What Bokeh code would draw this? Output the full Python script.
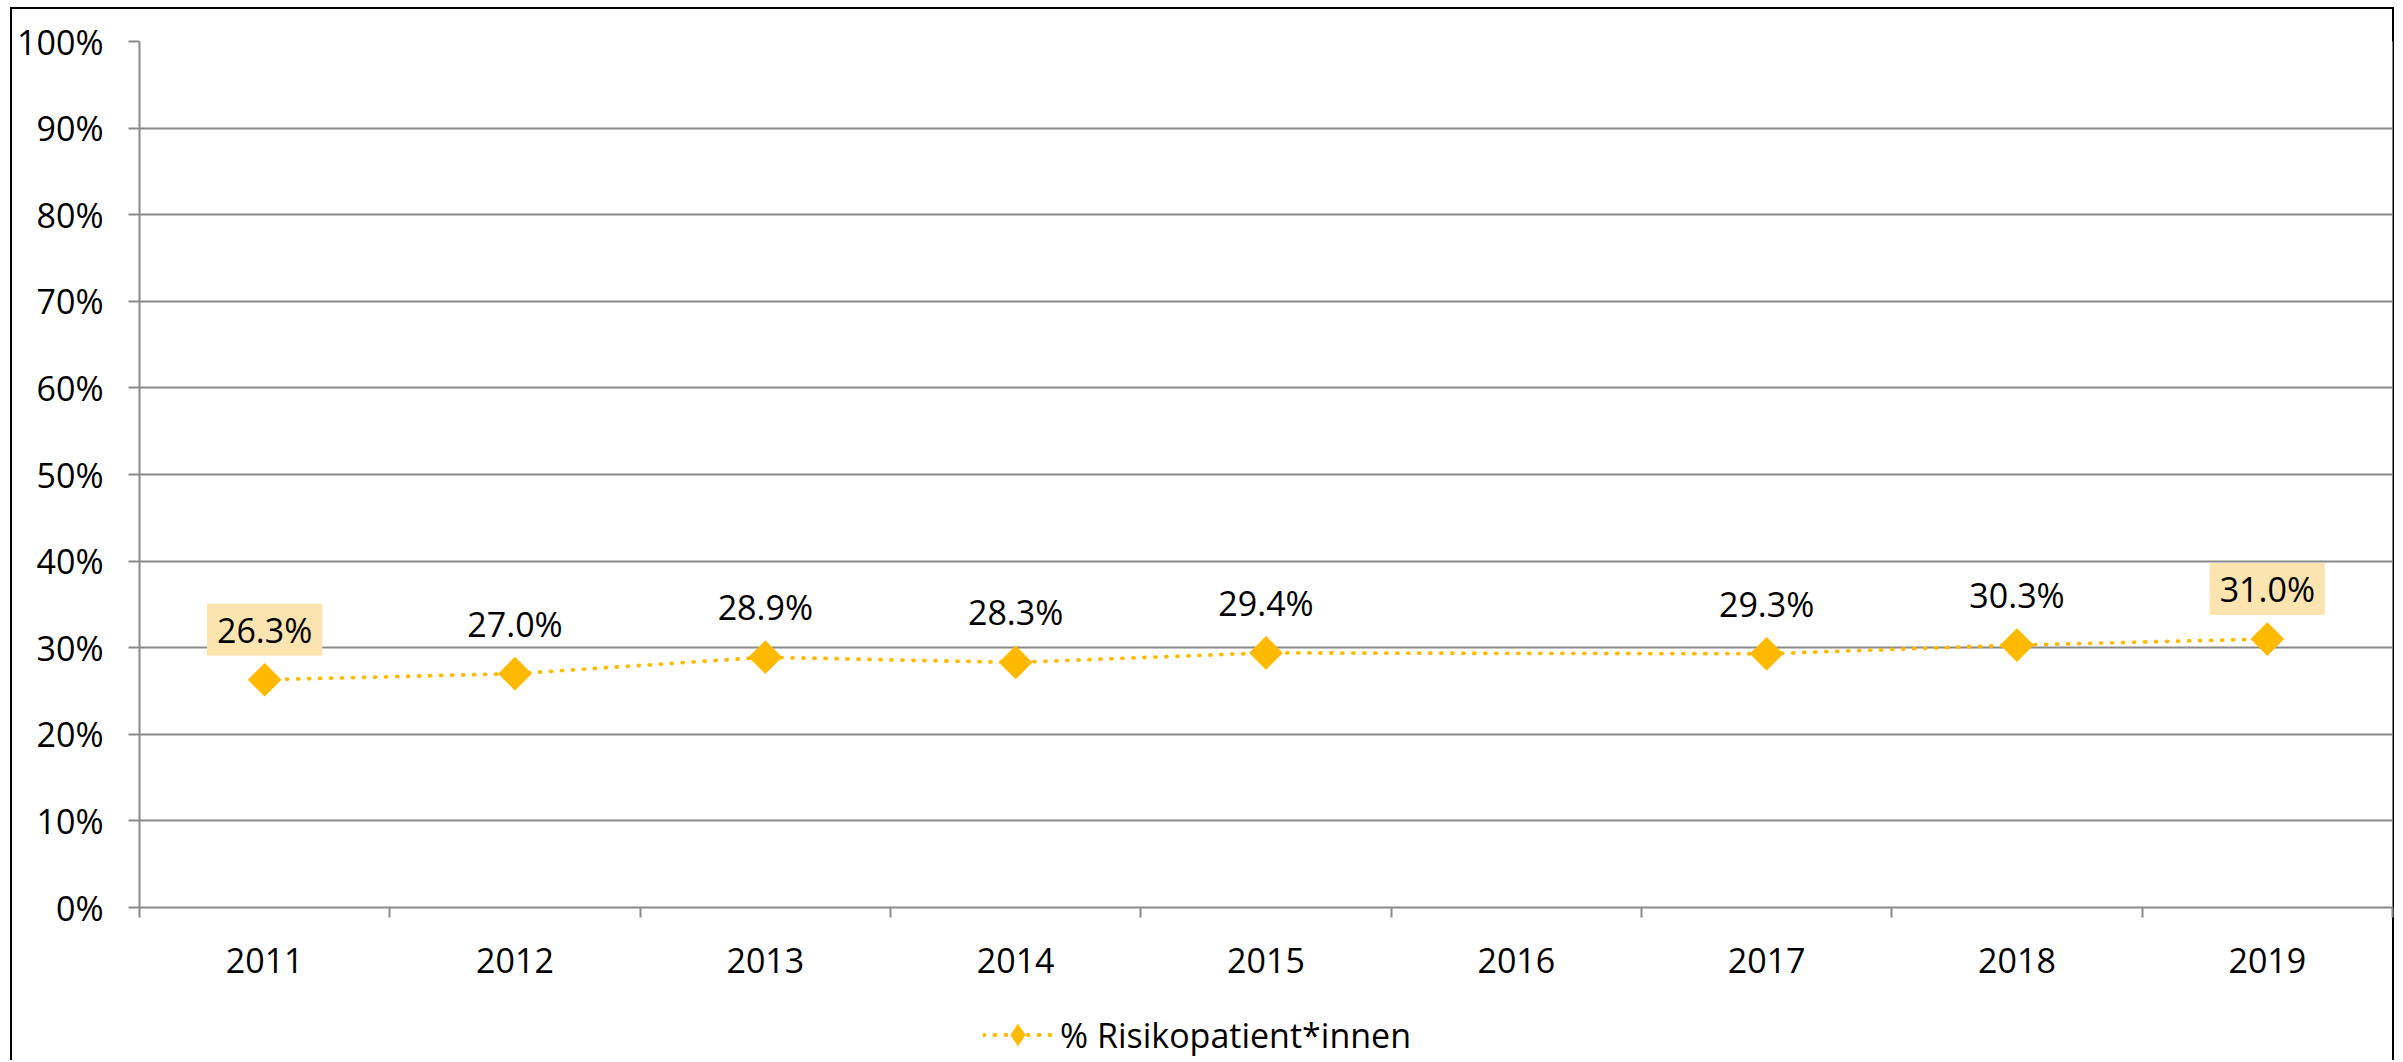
from bokeh.plotting import figure
from bokeh.layouts import column
from bokeh.models import (ColumnDataSource, Range1d, FixedTicker, PrintfTickFormatter,
                          Legend, LegendItem)
from bokeh.core.properties import value
from bokeh.embed import file_html
from bokeh.resources import INLINE
import math

# ---- data ----
years = ["2011", "2012", "2013", "2014", "2015", "2016", "2017", "2018", "2019"]
risk_pct = [26.3, 27.0, 28.9, 28.3, 29.4, None, 29.3, 30.3, 31.0]
series_name = "% Risikopatient*innen"
y_ticks = [0, 10, 20, 30, 40, 50, 60, 70, 80, 90, 100]

FONT = "Open Sans"
FS = "34px"
GOLD = "#FFBA00"
BOX = "#FCE4B0"
GRID = "#8A8A8A"

W, H1, H2 = 2395, 990, 70

pos = list(range(1, len(years) + 1))
xs = [p_ for p_, v in zip(pos, risk_pct) if v is not None]
ys = [v for v in risk_pct if v is not None]
n = len(ys)
src = ColumnDataSource(dict(
    x=xs, y=ys,
    lab=[f"{v:.1f}%" for v in ys],
    box=[BOX if i in (0, n - 1) else "rgba(0,0,0,0)" for i in range(n)],
))

p = figure(width=W, height=H1, output_backend="svg", toolbar_location=None,
           x_range=Range1d(0.5, len(years) + 0.5), y_range=Range1d(0, 100),
           min_border_left=139, min_border_right=3, min_border_top=41, min_border_bottom=H1 - 907)
p.border_fill_color = None
p.background_fill_color = "white"
p.outline_line_color = None

# axes
p.yaxis.ticker = FixedTicker(ticks=y_ticks)
p.yaxis.formatter = PrintfTickFormatter(format="%d%%")
p.yaxis.axis_line_color = GRID
p.yaxis.axis_line_width = 2
p.yaxis.major_tick_line_color = GRID
p.yaxis.major_tick_line_width = 2
p.yaxis.major_tick_out = 11
p.yaxis.major_tick_in = 0
p.yaxis.minor_tick_line_color = None
p.yaxis.major_label_standoff = 25

p.xaxis.ticker = FixedTicker(ticks=pos, minor_ticks=[q - 0.5 for q in pos] + [pos[-1] + 0.5])
p.xaxis.major_label_overrides = {q: y for q, y in zip(pos, years)}
p.xaxis.axis_line_color = GRID
p.xaxis.axis_line_width = 2
p.xaxis.major_tick_line_color = None
p.xaxis.major_tick_out = 0
p.xaxis.major_tick_in = 0
p.xaxis.minor_tick_line_color = GRID
p.xaxis.minor_tick_line_width = 2
p.xaxis.minor_tick_out = 10
p.xaxis.minor_tick_in = 0
p.xaxis.major_label_standoff = 30

for ax in (p.xaxis, p.yaxis):
    ax.major_label_text_font = FONT
    ax.major_label_text_font_size = FS
    ax.major_label_text_color = "black"

p.xgrid.grid_line_color = None
p.ygrid.ticker = FixedTicker(ticks=y_ticks)
p.ygrid.grid_line_color = GRID
p.ygrid.grid_line_width = 2

# series
line_style = dict(line_color=GOLD, line_width=3.8, line_dash="1 10", line_cap="round")
p.line("x", "y", source=src, **line_style)
p.scatter("x", "y", source=src, size=23.5, marker="square", angle=math.pi / 4,
          fill_color=GOLD, line_color=GOLD, line_width=0.5)

p.text("x", "y", text="lab", source=src, y_offset=-50, text_align="center",
       text_baseline="middle", text_font=value(FONT), text_font_size=FS,
       text_color="black", background_fill_color="box", padding=(10, 3))

# legend strip (separate figure below the chart; its series fall outside its ranges)
lg = figure(width=W, height=H2, output_backend="svg", toolbar_location=None,
            x_axis_type=None, y_axis_type=None, x_range=Range1d(-1, 0), y_range=Range1d(-1, 0),
            min_border_left=0, min_border_right=0, min_border_top=0, min_border_bottom=0)
lg.border_fill_color = None
lg.background_fill_color = None
lg.outline_line_color = None
lg.grid.grid_line_color = None
ln2 = lg.line("x", "y", source=src, **line_style)
sc2 = lg.scatter("x", "y", source=src, size=23.5, marker="diamond",
                 fill_color=GOLD, line_color=GOLD, line_width=0.5)
legend = Legend(items=[LegendItem(label=series_name, renderers=[ln2, sc2])],
                location=(844, -2), orientation="horizontal",
                padding=0, margin=0, spacing=0, label_standoff=8,
                glyph_width=69, glyph_height=55, label_height=40,
                border_line_color=None, background_fill_alpha=0,
                label_text_font=FONT, label_text_font_size=FS, label_text_color="black")
lg.add_layout(legend, "center")

layout = column(p, lg, spacing=0)
layout.styles = {"background": (
    "linear-gradient(#000,#000) 10px 7px / 2px 100% no-repeat, "
    "linear-gradient(#000,#000) 10px 7px / 2384px 2px no-repeat, "
    "linear-gradient(#000,#000) 2392px 7px / 2px 100% no-repeat, white")}

open("out.html", "w").write(file_html(layout, INLINE))
